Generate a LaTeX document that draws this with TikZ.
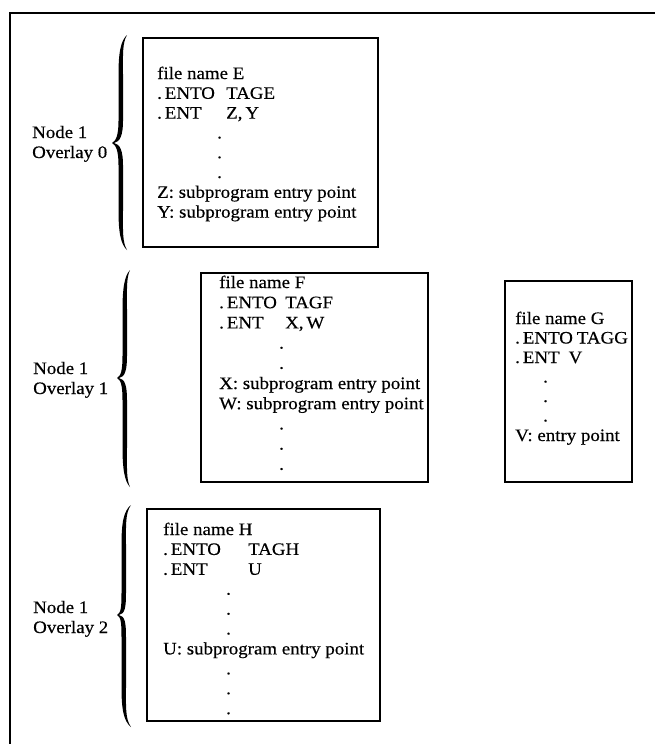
\documentclass[tikz,border=0pt]{standalone}
\usepackage{fontspec}
\setmainfont[FakeStretch=1.08,FakeBold=0.4]{Liberation Serif}
\newcommand\ovbrace[6]{% #1 body x, #2 top y, #3 bottom y, #4 tip y, #5 tip x, #6 end x
  \fill (#6,#2) .. controls (#1-0.5,#2+6) and (#1-2.5,#2+18) .. (#1-2.5,#2+40)
     -- (#1-2.5,#4-22) .. controls (#1-2.5,#4-8) and (#5+4,#4-2) .. (#5,#4)
     .. controls (#5+4,#4+2) and (#1-2.5,#4+8) .. (#1-2.5,#4+22)
     -- (#1-2.5,#3-40) .. controls (#1-2.5,#3-18) and (#1-0.5,#3-6) .. (#6,#3)
     .. controls (#1+1.2,#3-8) and (#1+2,#3-20) .. (#1+2,#3-40)
     -- (#1+2,#4+22) .. controls (#1+2,#4+8) and (#5+8,#4+1) .. (#5+2,#4)
     .. controls (#5+8,#4-1) and (#1+2,#4-8) .. (#1+2,#4-22)
     -- (#1+2,#2+40) .. controls (#1+2,#2+20) and (#1+1.2,#2+8) .. (#6,#2) -- cycle;}
\newcommand\tabto[2]{\makebox[#1][l]{#2}}
\begin{document}
\begin{tikzpicture}[x=1pt,y=-1pt,
  filebox/.style={draw, line width=2.2pt, minimum width=#1, inner sep=0pt},
  txt/.style={anchor=base west, inner sep=0pt, font=\fontsize{17.5}{20}\selectfont},
  frame/.style={line width=2pt}]
\useasboundingbox (0,0) rectangle (655,744);
% outer frame (top and left only)
\coordinate (fTR) at (655,13);
\coordinate (fTL) at (10,13);
\coordinate (fBL) at (10,744);
\draw[frame] (fTR) -- (fTL) -- (fBL);

% ---- Overlay 0
\node[txt] (lab0) at (32,138) {\parbox[t]{85pt}{\baselineskip=20pt Node 1\\Overlay 0}};
\ovbrace{121}{35}{250}{143}{112}{127}
\node[filebox=235pt, minimum height=209pt] (boxE) at (260.5,142.5) {};
\node[txt] (textE) at (157,79) {\parbox[t]{230pt}{\baselineskip=19.8pt
file name E\\
\tabto{69pt}{.\,ENTO}TAGE\\
\tabto{69pt}{.\,ENT}Z,\,Y\\
\hspace*{60pt}.\\
\hspace*{60pt}.\\
\hspace*{60pt}.\\
Z: subprogram entry point\\
Y: subprogram entry point}};

% ---- Overlay 1
\node[txt] (lab1) at (33,374) {\parbox[t]{85pt}{\baselineskip=20pt Node 1\\Overlay 1}};
\ovbrace{125}{270}{487}{378}{117}{130}
\node[filebox=227pt, minimum height=209pt] (boxF) at (314.5,377.5) {};
\node[txt] (textF) at (219,288) {\parbox[t]{230pt}{\baselineskip=20.2pt
file name F\\
\tabto{66pt}{.\,ENTO}TAGF\\
\tabto{66pt}{.\,ENT}X,\,W\\
\hspace*{60pt}.\\
\hspace*{60pt}.\\
X: subprogram entry point\\
W: subprogram entry point\\
\hspace*{60pt}.\\
\hspace*{60pt}.\\
\hspace*{60pt}.}};
\node[filebox=127pt, minimum height=201pt] (boxG) at (568.5,381.5) {};
\node[txt] (textG) at (515,324) {\parbox[t]{200pt}{\baselineskip=19.5pt
file name G\\
\mbox{.\,ENTO\hspace{4pt}TAGG}\\
\mbox{.\,ENT\hspace{9pt}V}\\
\hspace*{28pt}.\\
\hspace*{28pt}.\\
\hspace*{28pt}.\\
V: entry point}};

% ---- Overlay 2
\node[txt] (lab2) at (33,613) {\parbox[t]{85pt}{\baselineskip=20pt Node 1\\Overlay 2}};
\ovbrace{124}{505}{727}{615}{117}{131}
\node[filebox=233pt, minimum height=212pt] (boxH) at (263.5,615) {};
\node[txt] (textH) at (163,535) {\parbox[t]{230pt}{\baselineskip=19.9pt
file name H\\
\tabto{85pt}{.\,ENTO}TAGH\\
\tabto{85pt}{.\,ENT}U\\
\hspace*{63pt}.\\
\hspace*{63pt}.\\
\hspace*{63pt}.\\
U: subprogram entry point\\
\hspace*{63pt}.\\
\hspace*{63pt}.\\
\hspace*{63pt}.}};
\end{tikzpicture}
\end{document}
